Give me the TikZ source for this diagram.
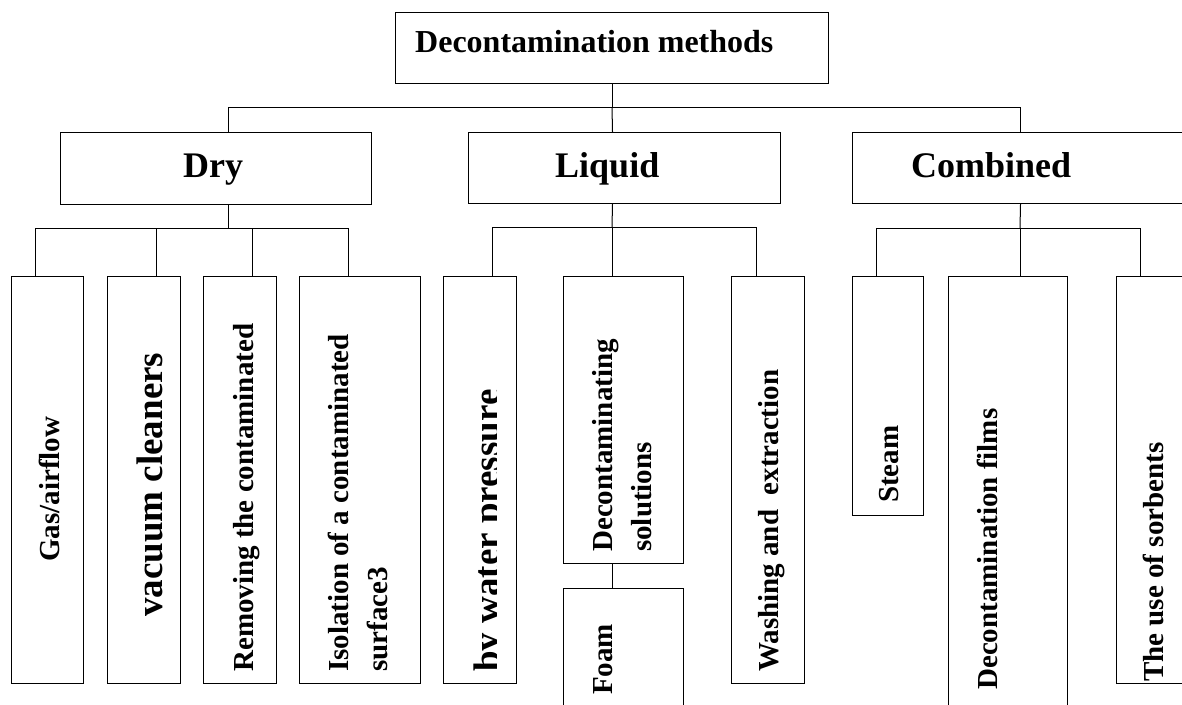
\documentclass[tikz,border=0pt]{standalone}
\usepackage{fontspec}
\setmainfont{Liberation Serif}
\usepackage{tikz}

\tikzset{
    box/.style={draw, line width=1pt, inner sep=0pt, anchor=north west},
    head/.style={inner sep=0pt, anchor=base west, font=\bfseries\fontsize{36}{40}\selectfont},
    lbl/.style={inner sep=0pt, rotate=90, font=\bfseries\fontsize{29}{39}\selectfont},
    biglbl/.style={lbl, font=\bfseries\fontsize{37}{40}\selectfont},
    wire/.style={line width=1pt}
}

\begin{document}
\begin{tikzpicture}[x=1pt,y=-1pt]

\useasboundingbox (0,0) rectangle (1182,704);
\clip (0,0) rectangle (1182,704);

% Top box
\node[box, minimum width=433pt, minimum height=71pt] (top) at (395,12) {};
\node[inner sep=0pt, anchor=base west, font=\bfseries\fontsize{32}{36}\selectfont] (toptxt) at (415,52) {Decontamination methods};

% Main groups
\node[box, minimum width=311pt, minimum height=72pt] (dry) at (60,132) {};
\node[box, minimum width=312pt, minimum height=71pt] (liquid) at (468,132) {};
\node[box, minimum width=336pt, minimum height=71pt] (combined) at (852,132) {};
\node[head] (drytxt) at (183,177) {Dry};
\node[head] (liquidtxt) at (555,177) {Liquid};
\node[head] (combinedtxt) at (911,177) {Combined};

% Dry methods
\node[box, minimum width=72pt, minimum height=407pt] (gas) at (11,276) {};
\node[box, minimum width=73pt, minimum height=407pt] (vacuum) at (107,276) {};
\node[box, minimum width=73pt, minimum height=407pt] (removing) at (203,276) {};
\node[box, minimum width=121pt, minimum height=407pt] (isolation) at (299,276) {};
\node[lbl, anchor=base west] (gastxt) at (59,562) {Gas/airflow};
\node[biglbl, anchor=base west] (vacuumtxt) at (162,617) {vacuum cleaners};
\node[lbl, anchor=base west] (removingtxt) at (253,672) {Removing the contaminated};
\node[lbl, anchor=north west, align=left] (isolationtxt) at (328,672) {Isolation of a contaminated\\surface3};

% Liquid methods
\node[box, minimum width=73pt, minimum height=407pt] (pressure) at (443,276) {};
\node[box, minimum width=120pt, minimum height=287pt] (solutions) at (563,276) {};
\node[box, minimum width=120pt, minimum height=140pt] (foam) at (563,588) {};
\node[box, minimum width=73pt, minimum height=407pt] (washing) at (731,276) {};
\begin{scope}
    \clip (443,276) rectangle (496.5,683);
    \node[biglbl, anchor=base west] (pressuretxt) at (499,672) {by water pressure};
\end{scope}
\node[lbl, anchor=north west, align=left] (solutionstxt) at (592,552) {Decontaminating\\solutions};
\node[lbl, anchor=base west] (foamtxt) at (612,695) {Foam};
\node[lbl, anchor=base west] (washingtxt) at (778,672) {Washing and~ extraction};

% Combined methods
\node[box, minimum width=71pt, minimum height=239pt] (steam) at (852,276) {};
\node[box, minimum width=119pt, minimum height=450pt] (films) at (948,276) {};
\node[box, minimum width=72pt, minimum height=407pt] (sorbents) at (1116,276) {};
\node[lbl, anchor=base west] (steamtxt) at (898,503) {Steam};
\node[lbl, anchor=base west] (filmstxt) at (997,690) {Decontamination films};
\node[lbl, anchor=base west] (sorbentstxt) at (1163,682) {The use of sorbents};

% Connectors
\coordinate (mainbus) at (612,107);
\coordinate (drybus) at (228,228);
\coordinate (liqbus) at (612,227);
\coordinate (combus) at (1020,228);

\draw[wire] (top.south) -- (mainbus);
\draw[wire] ([xshift=12pt]dry.north) |- (mainbus);
\draw[wire] ([xshift=-12pt]liquid.north) -- (mainbus);
\draw[wire] (combined.north) |- (mainbus);

\draw[wire] ([xshift=12pt]dry.south) -- (drybus);
\foreach \n/\s in {gas/-12, vacuum/12, removing/12, isolation/-12}
    \draw[wire] ([xshift=\s pt]\n.north) |- (drybus);

\draw[wire] ([xshift=-12pt]liquid.south) -- (liqbus);
\foreach \n/\s in {pressure/12, solutions/-11, washing/-12}
    \draw[wire] ([xshift=\s pt]\n.north) |- (liqbus);
\draw[wire] ([xshift=-11pt]solutions.south) -- ([xshift=-11pt]foam.north);

\draw[wire] (combined.south) -- (combus);
\foreach \n/\s in {steam/-12, films/12, sorbents/-12}
    \draw[wire] ([xshift=\s pt]\n.north) |- (combus);

\end{tikzpicture}
\end{document}
